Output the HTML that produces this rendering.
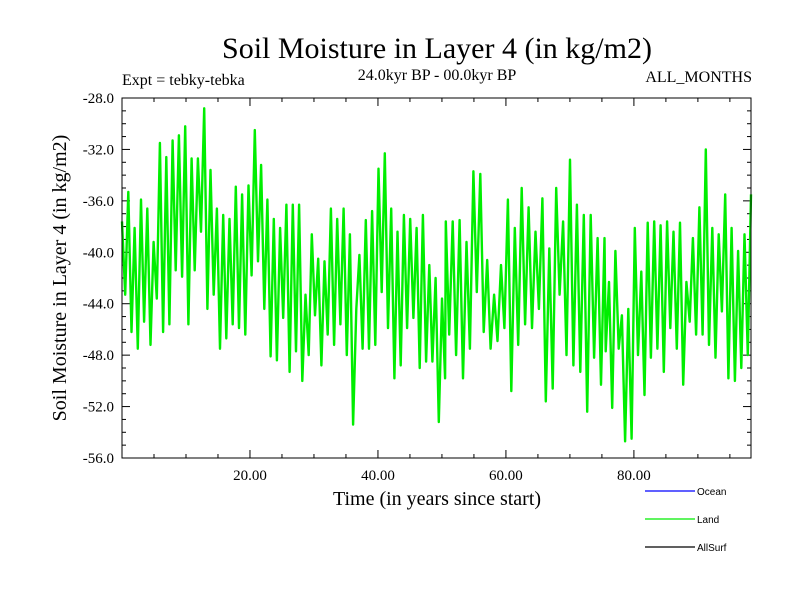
<!DOCTYPE html>
<html><head><meta charset="utf-8"><style>
body{margin:0;background:#fff}
svg text{font-family:"Liberation Serif",serif;fill:#000}
</style></head><body>
<svg id="c" width="800" height="600">
<text x="437" y="58" font-size="30" text-anchor="middle">Soil Moisture in Layer 4 (in kg/m2)</text>
<text x="122" y="85" font-size="16">Expt = tebky-tebka</text>
<text x="437" y="80" font-size="16" text-anchor="middle">24.0kyr BP - 00.0kyr BP</text>
<text x="752" y="82" font-size="16" text-anchor="end">ALL_MONTHS</text>
<text x="437" y="505" font-size="20" text-anchor="middle">Time (in years since start)</text>
<text transform="translate(66,278) rotate(-90)" font-size="20" text-anchor="middle">Soil Moisture in Layer 4 (in kg/m2)</text>
<g id="ticks"></g>
<g id="series"></g>
<rect x="122" y="98" width="629" height="360" fill="none" stroke="#000" stroke-width="1"/>
<g id="legend"></g>
</svg>
<script>
const xTicks=[20,40,60,80];
const yTicks=[-28,-32,-36,-40,-44,-48,-52,-56];
const segStart=[0,25.7,50.6,75.6];
const segEnd=[25.2,50.5,75.4,98.3];
const seg1=[-37.6,-43.3,-35.3,-46.2,-38.1,-47.5,-35.9,-45.4,-36.6,-47.2,-39.2,-43.6,-31.5,-46.2,-32.6,-45.6,-31.3,-41.4,-30.9,-41.9,-30.2,-45.6,-32.7,-41.4,-32.7,-38.4,-28.8,-44.4,-33.6,-43.3,-36.6,-47.5,-37.1,-46.7,-37.4,-45.6,-34.9,-45.9,-35.5,-46.4,-34.8,-41.8,-30.5,-40.7,-33.2,-44.4,-35.9,-48.1,-37.4,-48.4,-38.1,-45.1];
const seg2=[-36.3,-49.3,-36.3,-47.7,-36.3,-50.0,-43.3,-48.0,-38.6,-44.9,-40.5,-48.8,-40.7,-46.4,-36.6,-47.2,-37.4,-45.6,-36.6,-48.0,-38.6,-53.4,-44.4,-40.2,-47.5,-37.5,-47.5,-36.8,-47.2,-33.5,-43.1,-32.3,-45.9,-36.6,-49.8,-38.4,-48.8,-37.1,-45.9,-37.4,-45.1,-38.1,-49.0,-37.1,-48.5,-41.0,-48.5,-42.0,-53.2,-43.6,-49.8];
const seg3=[-37.6,-46.4,-37.6,-48.0,-37.5,-49.8,-39.2,-47.5,-33.7,-43.1,-33.9,-46.2,-40.6,-47.5,-43.3,-46.9,-41.0,-45.9,-35.9,-50.8,-38.1,-47.2,-35.0,-45.6,-36.5,-45.9,-38.4,-44.4,-35.8,-51.6,-39.7,-50.6,-35.0,-43.3,-37.6,-48.0,-32.8,-48.8,-36.3,-49.3,-37.1,-52.4,-37.1,-48.2,-38.9,-50.3,-38.9];
const seg4=[-47.7,-42.3,-52.1,-39.9,-47.5,-44.9,-54.7,-44.4,-54.5,-38.1,-48.0,-41.5,-51.1,-37.7,-48.2,-37.6,-47.5,-37.9,-49.3,-37.6,-45.9,-38.4,-47.5,-37.7,-50.3,-42.3,-45.4,-38.9,-46.4,-36.5,-46.4,-32.0,-47.2,-38.1,-48.2,-38.6,-44.6,-35.5,-49.8,-38.1,-50.0,-39.9,-49.0,-38.6,-48.0,-35.5];
const legendNames=["Ocean","Land","AllSurf"];
const legendColors=["#0000ff","#00ee00","#000000"];

const NS="http://www.w3.org/2000/svg";
const X0=122,X1=751,Y0=98,Y1=458,XMIN=0,XMAX=98.3,YMIN=-56,YMAX=-28;
const sx=v=>X0+(v-XMIN)/(XMAX-XMIN)*(X1-X0);
const sy=v=>Y1-(v-YMIN)/(YMAX-YMIN)*(Y1-Y0);
function mk(tag,at,parent){const e=document.createElementNS(NS,tag);for(const k in at)e.setAttribute(k,at[k]);parent.appendChild(e);return e;}
const tg=document.getElementById('ticks');
for(let v=5;v<XMAX;v+=5){const big=v%20===0;
 let t=mk('line',{x1:sx(v),x2:sx(v),y1:Y1,y2:Y1-(big?8:4),stroke:'#000'},tg);
 
 
 let t2=mk('line',{x1:sx(v),x2:sx(v),y1:Y0,y2:Y0+(big?8:4),stroke:'#000'},tg);
 
 }
xTicks.forEach(v=>{const t=mk('text',{x:sx(v),y:Y1+22,'font-size':15,'text-anchor':'middle'},tg);t.textContent=v.toFixed(2);
 
 });
for(let v=YMIN+1;v<YMAX;v+=1){const big=v%4===0;
 let t=mk('line',{x1:X0,x2:X0+(big?8:4),y1:sy(v),y2:sy(v),stroke:'#000'},tg);
 
 
 let t2=mk('line',{x1:X1,x2:X1-(big?8:4),y1:sy(v),y2:sy(v),stroke:'#000'},tg);
 
 }
yTicks.forEach(v=>{const t=mk('text',{x:X0-8,y:sy(v)+5,'font-size':15,'text-anchor':'end'},tg);t.textContent=v.toFixed(1);
 
 });
const segs=[seg1,seg2,seg3,seg4];let pts=[];
segs.forEach((s,i)=>{const st=(segEnd[i]-segStart[i])/(s.length-1);s.forEach((v,j)=>pts.push(sx(segStart[i]+j*st).toFixed(1)+','+sy(v).toFixed(1)));});
const line=mk('polyline',{points:pts.join(' '),fill:'none',stroke:'#00ee00','stroke-width':2.4,'stroke-linejoin':'round'},document.getElementById('series'));


const lg=document.getElementById('legend');
legendNames.forEach((n,i)=>{const y=491+i*28;
 const l=mk('line',{x1:645,x2:695,y1:y,y2:y,stroke:legendColors[i],'stroke-width':1.2},lg);
 
 
 const t=mk('text',{x:697,y:y+4,'font-size':10,style:'font-family:"Liberation Sans",sans-serif'},lg);t.textContent=n;
 
 });
</script>
</body></html>
